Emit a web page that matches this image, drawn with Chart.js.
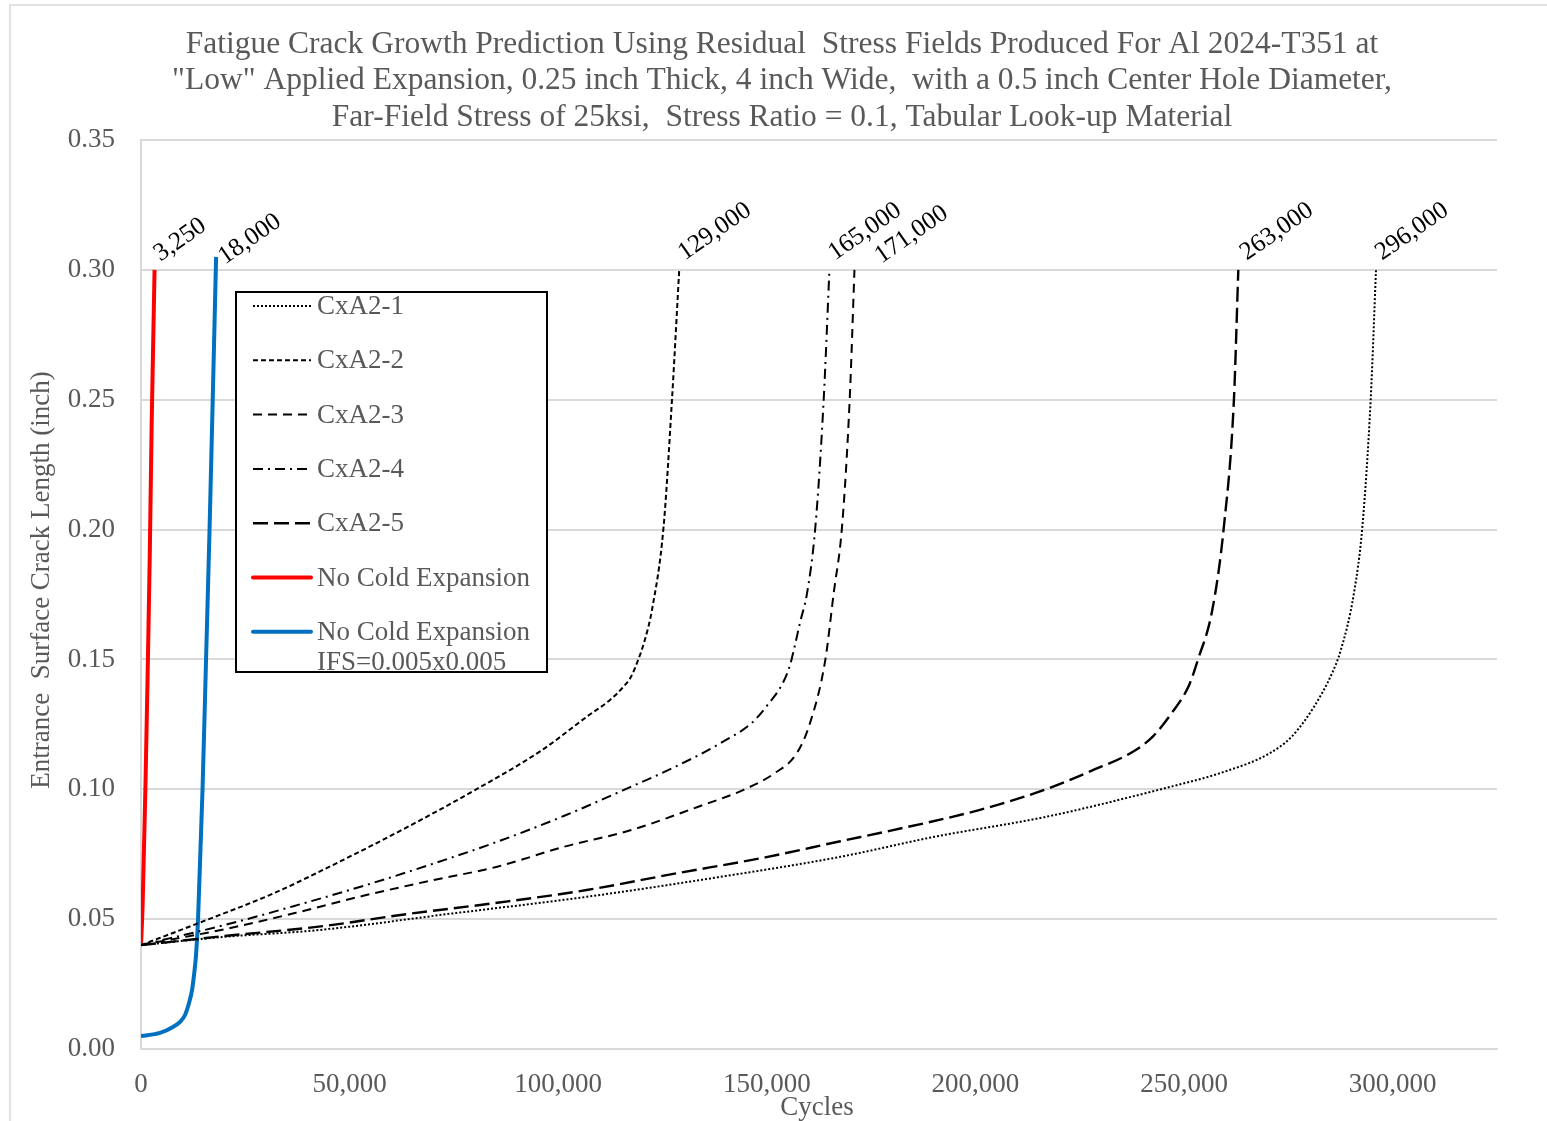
<!DOCTYPE html>
<html>
<head>
<meta charset="utf-8">
<script src="https://cdn.jsdelivr.net/npm/chart.js@4.4.1/dist/chart.umd.min.js"></script>
<style>
  html, body { margin: 0; padding: 0; background: #ffffff; overflow: hidden; }
  canvas { display: block; }
</style>
</head>
<body>
<canvas id="chart" width="1547" height="1121"></canvas>
<script>
// ---- Text ----
const titleLines = [
  'Fatigue Crack Growth Prediction Using Residual  Stress Fields Produced For Al 2024-T351 at',
  '"Low" Applied Expansion, 0.25 inch Thick, 4 inch Wide,  with a 0.5 inch Center Hole Diameter,',
  'Far-Field Stress of 25ksi,  Stress Ratio = 0.1, Tabular Look-up Material'
];
const xAxisTitle = 'Cycles';
const yAxisTitle = 'Entrance  Surface Crack Length (inch)';

// ---- Axis ranges / ticks ----
const xRange = [0, 325000];
const xTickValues = [0, 50000, 100000, 150000, 200000, 250000, 300000];
const yRange = [0, 0.35];
const yTickValues = [0, 0.05, 0.10, 0.15, 0.20, 0.25, 0.30, 0.35];

// ---- Series names ----
const seriesNames = [
  'CxA2-1', 'CxA2-2', 'CxA2-3', 'CxA2-4', 'CxA2-5',
  'No Cold Expansion', ['No Cold Expansion', 'IFS=0.005x0.005']
];

// ---- Crack growth curves: cycles vs. entrance surface crack length (inch) ----
const cxa21Cycles = [0, 20000, 42590, 74700, 106810, 138940, 167620, 190140, 216900, 243660, 259730, 270450, 275800, 281150, 285440, 287550, 290710, 292730, 294720, 296000];
const cxa21Length = [0.040, 0.0432, 0.0458, 0.0522, 0.0586, 0.0663, 0.0740, 0.0817, 0.0894, 0.0997, 0.1068, 0.1138, 0.1203, 0.1318, 0.1446, 0.1535, 0.1755, 0.2011, 0.2499, 0.300];

const cxa22Cycles = [0, 13670, 31870, 47950, 64010, 80050, 96120, 106810, 112470, 115350, 117500, 119130, 120740, 122460, 125250, 127260, 129000];
const cxa22Length = [0.040, 0.0484, 0.0600, 0.0724, 0.0856, 0.0997, 0.1151, 0.1279, 0.1345, 0.1390, 0.1435, 0.1497, 0.1574, 0.1690, 0.2011, 0.2499, 0.300];

const cxa23Cycles = [0, 21170, 37240, 53280, 69350, 85390, 101460, 117500, 133570, 144290, 151770, 157140, 160330, 164000, 166020, 168020, 169850, 171000];
const cxa23Length = [0.040, 0.0465, 0.0525, 0.0590, 0.0648, 0.0702, 0.0779, 0.0843, 0.0933, 0.0997, 0.1061, 0.1138, 0.1254, 0.1497, 0.1755, 0.2011, 0.2499, 0.300];

const cxa24Cycles = [0, 21170, 37240, 53280, 69350, 85390, 101460, 115370, 128220, 138940, 146420, 150040, 153930, 155630, 156590, 158000, 159640, 161630, 163620, 165000];
const cxa24Length = [0.040, 0.0482, 0.0553, 0.0628, 0.0710, 0.0798, 0.0898, 0.0995, 0.1088, 0.1178, 0.1256, 0.1322, 0.1412, 0.1482, 0.1545, 0.1645, 0.1755, 0.2011, 0.2499, 0.300];

const cxa25Cycles = [0, 20000, 42590, 64010, 85390, 106810, 128220, 149640, 167620, 179450, 200860, 216900, 227620, 238320, 242610, 246880, 251170, 253300, 256760, 259540, 261940, 263000];
const cxa25Length = [0.040, 0.0435, 0.0471, 0.0520, 0.0563, 0.0612, 0.0676, 0.0738, 0.0800, 0.0840, 0.0920, 0.1000, 0.1070, 0.1150, 0.1205, 0.1290, 0.1400, 0.1498, 0.1690, 0.2011, 0.2499, 0.300];

const noCxCycles = [0, 400, 1050, 1600, 2100, 2550, 2900, 3250];
const noCxLength = [0.040, 0.056, 0.100, 0.145, 0.190, 0.240, 0.270, 0.300];

const noCxIfsCycles = [0, 4560, 7670, 9350, 10550, 11510, 12230, 12710, 13190, 13670, 14750, 15590, 16430, 17190, 18000];
const noCxIfsLength = [0.005, 0.0062, 0.0085, 0.0104, 0.0131, 0.0177, 0.0227, 0.0285, 0.0362, 0.0497, 0.100, 0.150, 0.200, 0.250, 0.305];

// ---- Styling ----
const serif = "'Liberation Serif', 'Times New Roman', serif";
const textGray = '#595959';
const gridGray = '#d9d9d9';

const seriesStyles = [
  { color: '#000000', width: 2, dash: [2, 2] },
  { color: '#000000', width: 2, dash: [5, 3] },
  { color: '#000000', width: 2, dash: [9, 6] },
  { color: '#000000', width: 2, dash: [10, 5, 2, 5] },
  { color: '#000000', width: 2.4, dash: [15, 6] },
  { color: '#ff0000', width: 4, dash: [] },
  { color: '#0070c0', width: 4, dash: [] }
];
// end-of-curve label offsets from the last point (pixels)
const endLabelNudge = [
  { dx: 6, dy: -9 }, { dx: 5.5, dy: -9 }, { dx: 27, dy: -6 }, { dx: 5.5, dy: -9 },
  { dx: 8.5, dy: -9 }, { dx: 6, dy: -8 }, { dx: 9, dy: 8 }
];
const endLabelAngle = 35;

const seriesData = [
  [cxa21Cycles, cxa21Length], [cxa22Cycles, cxa22Length], [cxa23Cycles, cxa23Length],
  [cxa24Cycles, cxa24Length], [cxa25Cycles, cxa25Length],
  [noCxCycles, noCxLength], [noCxIfsCycles, noCxIfsLength]
];

const datasets = seriesData.map(([xs, ys], i) => ({
  label: seriesNames[i],
  data: xs.map((x, k) => ({ x: x, y: ys[k] })),
  showLine: true,
  borderColor: seriesStyles[i].color,
  backgroundColor: seriesStyles[i].color,
  borderWidth: seriesStyles[i].width,
  borderDash: seriesStyles[i].dash,
  borderCapStyle: 'butt',
  pointRadius: 0,
  pointHoverRadius: 0,
  cubicInterpolationMode: 'monotone',
  fill: false
}));

// Outer frame, chart title and axis titles
const framePlugin = {
  id: 'frame',
  beforeDraw(chart) {
    const ctx = chart.ctx;
    ctx.save();
    ctx.fillStyle = '#ffffff';
    ctx.fillRect(0, 0, chart.width, chart.height);
    ctx.strokeStyle = gridGray;
    ctx.lineWidth = 1.5;
    ctx.strokeRect(10, 5, chart.width + 20, chart.height + 20);
    ctx.fillStyle = textGray;
    ctx.font = '31.5px ' + serif;
    ctx.textAlign = 'center';
    ctx.textBaseline = 'middle';
    const ys = [45, 81, 118];
    titleLines.forEach((t, i) => ctx.fillText(t, 782, ys[i]));

    ctx.font = '27px ' + serif;
    ctx.fillText(xAxisTitle, 817, 1108);
    ctx.translate(42, 580);
    ctx.rotate(-Math.PI / 2);
    ctx.fillText(yAxisTitle, 0, 0);
    ctx.restore();
  }
};

// Final-cycle labels and the boxed legend
const annotatePlugin = {
  id: 'annotate',
  afterDatasetsDraw(chart) {
    const ctx = chart.ctx;
    const xs = chart.scales.x, ys = chart.scales.y;
    ctx.save();
    ctx.fillStyle = '#000000';
    ctx.font = '25.5px ' + serif;
    ctx.textAlign = 'left';
    ctx.textBaseline = 'alphabetic';
    chart.data.datasets.forEach((ds, i) => {
      const last = ds.data[ds.data.length - 1];
      const px = xs.getPixelForValue(last.x) + endLabelNudge[i].dx;
      const py = ys.getPixelForValue(last.y) + endLabelNudge[i].dy;
      ctx.save();
      ctx.translate(px, py);
      ctx.rotate(-endLabelAngle * Math.PI / 180);
      ctx.fillText(last.x.toLocaleString('en-US'), 0, 0);
      ctx.restore();
    });
    ctx.restore();

    // legend
    const box = { l: 236, t: 292, r: 547, b: 672 };
    ctx.save();
    ctx.fillStyle = '#ffffff';
    ctx.fillRect(box.l, box.t, box.r - box.l, box.b - box.t);
    ctx.beginPath();
    ctx.rect(box.l, box.t, box.r - box.l, box.b - box.t);
    ctx.clip();
    const rowH = 54.3;
    chart.data.datasets.forEach((ds, i) => {
      const cy = 306 + i * rowH;
      ctx.save();
      ctx.strokeStyle = ds.borderColor;
      ctx.lineWidth = ds.borderWidth;
      ctx.setLineDash(ds.borderDash);
      ctx.lineCap = ds.borderWidth > 3 ? 'round' : 'butt';
      ctx.beginPath();
      ctx.moveTo(253, cy);
      ctx.lineTo(311, cy);
      ctx.stroke();
      ctx.restore();
      ctx.fillStyle = textGray;
      ctx.font = '27px ' + serif;
      ctx.textAlign = 'left';
      ctx.textBaseline = 'middle';
      const lines = Array.isArray(ds.label) ? ds.label : [ds.label];
      lines.forEach((t, k) => ctx.fillText(t, 317, cy + 1 + k * 30));
    });
    ctx.restore();
    ctx.save();
    ctx.strokeStyle = '#000000';
    ctx.lineWidth = 2;
    ctx.strokeRect(box.l, box.t, box.r - box.l, box.b - box.t);
    ctx.restore();
  }
};

new Chart(document.getElementById('chart'), {
  type: 'scatter',
  data: { datasets: datasets },
  plugins: [framePlugin, annotatePlugin],
  options: {
    responsive: false,
    animation: false,
    devicePixelRatio: 1,
    layout: { padding: { top: 140, right: 50, left: 0, bottom: 0 } },
    plugins: {
      legend: { display: false },
      title: { display: false },
      tooltip: { enabled: false }
    },
    scales: {
      x: {
        type: 'linear',
        min: xRange[0],
        max: xRange[1],
        afterFit(s) { s.height = 72; },
        afterBuildTicks(s) { s.ticks = xTickValues.map(v => ({ value: v })); },
        ticks: {
          maxRotation: 0,
          autoSkip: false,
          padding: 20,
          color: textGray,
          font: { family: serif, size: 27 },
          callback: v => v.toLocaleString('en-US')
        },
        grid: { display: false, drawTicks: false },
        border: { display: true, color: gridGray, width: 2 }
      },
      y: {
        type: 'linear',
        min: yRange[0],
        max: yRange[1],
        afterFit(s) { s.width = 141; },
        afterBuildTicks(s) { s.ticks = yTickValues.map(v => ({ value: v })); },
        ticks: {
          padding: 26,
          autoSkip: false,
          color: textGray,
          font: { family: serif, size: 27 },
          callback: v => v.toFixed(2)
        },
        grid: { color: gridGray, lineWidth: 2, drawTicks: false },
        border: { display: true, color: gridGray, width: 2 }
      }
    }
  }
});
</script>
</body>
</html>
